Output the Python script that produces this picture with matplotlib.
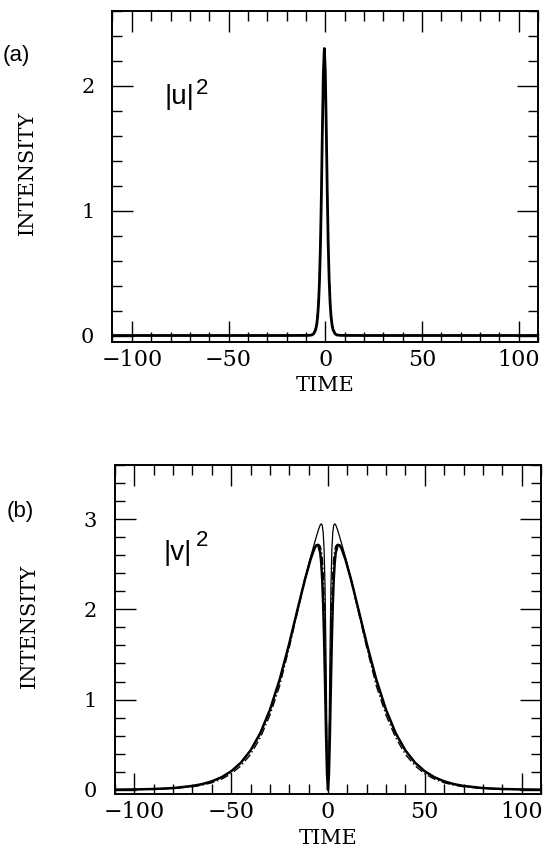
import matplotlib
matplotlib.use('Agg')
import matplotlib.pyplot as plt
from matplotlib.ticker import MultipleLocator

# panel (a): |u|^2
t_u = [-110, -60, -20, -9, -7, -6, -5, -4.5, -4, -3.5, -3, -2.5, -2, -1.5, -1, -0.5,
       0, 0.5, 1, 1.5, 2, 2.5, 3, 3.5, 4, 5, 6, 8, 20, 60, 110]
u_solid = [0.0, 0.0, 0.0, 0.001, 0.004, 0.014, 0.046, 0.082, 0.145, 0.254, 0.44, 0.73,
           1.15, 1.66, 2.11, 2.30, 2.11, 1.66, 1.15, 0.73, 0.44, 0.254, 0.145, 0.082,
           0.046, 0.014, 0.004, 0.001, 0.0, 0.0, 0.0]
u_dashdot = [0.0, 0.0, 0.0, 0.001, 0.006, 0.020, 0.059, 0.102, 0.174, 0.295, 0.489, 0.783,
             1.187, 1.654, 2.057, 2.22, 2.057, 1.654, 1.187, 0.783, 0.489, 0.295, 0.174,
             0.102, 0.059, 0.020, 0.006, 0.001, 0.0, 0.0, 0.0]

# panel (b): |v|^2
t_v = [-110, -100, -90, -80, -70, -65, -60, -55, -50, -45, -40, -35, -30, -25, -20, -16,
       -12, -9, -7, -6, -5, -4, -3.5, -3, -2.5, -2, -1.5, -1, -0.5, 0,
       0.5, 1, 1.5, 2, 2.5, 3, 3.5, 4, 5, 6, 7, 9, 12, 16, 20, 25, 30, 35, 40, 45,
       50, 55, 60, 65, 70, 80, 90, 100, 110]
v_thick = [0.002, 0.004, 0.009, 0.019, 0.043, 0.063, 0.094, 0.139, 0.205, 0.300, 0.436,
           0.626, 0.885, 1.218, 1.621, 1.975, 2.323, 2.554, 2.674, 2.711, 2.713, 2.628,
           2.520, 2.342, 2.066, 1.671, 1.166, 0.618, 0.174, 0.0,
           0.174, 0.618, 1.166, 1.671, 2.066, 2.342, 2.520, 2.628, 2.713, 2.711, 2.674,
           2.554, 2.323, 1.975, 1.621, 1.218, 0.885, 0.626, 0.436, 0.300, 0.205, 0.139,
           0.094, 0.063, 0.043, 0.019, 0.009, 0.004, 0.002]
v_thin = [0.002, 0.004, 0.009, 0.019, 0.043, 0.063, 0.094, 0.139, 0.205, 0.300, 0.436,
          0.626, 0.885, 1.218, 1.621, 1.976, 2.330, 2.578, 2.732, 2.805, 2.878, 2.936,
          2.947, 2.935, 2.858, 2.661, 2.226, 1.444, 0.483, 0.0,
          0.483, 1.444, 2.226, 2.661, 2.858, 2.935, 2.947, 2.936, 2.878, 2.805, 2.732,
          2.578, 2.330, 1.976, 1.621, 1.218, 0.885, 0.626, 0.436, 0.300, 0.205, 0.139,
          0.094, 0.063, 0.043, 0.019, 0.009, 0.004, 0.002]
v_dashdot = [0.001, 0.003, 0.0065, 0.015, 0.034, 0.052, 0.078, 0.118, 0.178, 0.265, 0.392,
             0.576, 0.827, 1.149, 1.578, 1.948, 2.31, 2.55, 2.67, 2.71, 2.72, 2.70,
             2.66, 2.58, 2.42, 2.12, 1.62, 0.95, 0.30, 0.0,
             0.30, 0.95, 1.62, 2.12, 2.42, 2.58, 2.66, 2.70, 2.72, 2.71, 2.67,
             2.55, 2.31, 1.948, 1.578, 1.149, 0.827, 0.576, 0.392, 0.265, 0.178, 0.118,
             0.078, 0.052, 0.034, 0.015, 0.0065, 0.003, 0.001]

x_ticks = [-100, -50, 0, 50, 100]

serif = 'DejaVu Serif'
sans = 'Liberation Sans'
dashdot = (0, (6, 2, 1, 2))

fig = plt.figure(figsize=(5.45, 8.48), dpi=100)
ax1 = fig.add_axes([0.2064, 0.597, 0.781, 0.390])
ax2 = fig.add_axes([0.211, 0.0633, 0.7816, 0.3884])


def style(ax, ymax):
    ax.set_xlim(-110, 110)
    ax.set_ylim(-0.05, ymax)
    ax.set_xticks(x_ticks)
    ax.xaxis.set_minor_locator(MultipleLocator(10))
    ax.yaxis.set_major_locator(MultipleLocator(1))
    ax.yaxis.set_minor_locator(MultipleLocator(0.2))
    ax.tick_params(which='both', direction='in', top=True, right=True, width=1.0, color='black')
    ax.tick_params(which='major', length=15)
    ax.tick_params(which='minor', length=7.5)
    ax.tick_params(axis='x', labelsize=16, pad=5)
    ax.tick_params(axis='y', labelsize=15, pad=13)
    for lab in ax.get_xticklabels() + ax.get_yticklabels():
        lab.set_family(serif)
    for sp in ax.spines.values():
        sp.set_linewidth(1.4)
    ax.set_xlabel('TIME', family=serif, fontsize=15, labelpad=4)
    ax.set_ylabel('INTENSITY', family=serif, fontsize=15)
    ax.yaxis.set_label_coords(-0.178, 0.51)


ax1.plot(t_u, u_solid, color='black', lw=2.0)
ax1.plot(t_u, u_dashdot, color='black', lw=1.0, linestyle=dashdot)
style(ax1, 2.6)
ax1.text(0.123, 0.72, '|u|', transform=ax1.transAxes, family=sans, fontsize=20)
ax1.text(0.197, 0.75, '2', transform=ax1.transAxes, family=sans, fontsize=16)

ax2.plot(t_v, v_thick, color='black', lw=1.8)
ax2.plot(t_v, v_thin, color='black', lw=0.9)
ax2.plot(t_v, v_dashdot, color='black', lw=1.0, linestyle=dashdot)
style(ax2, 3.6)
ax2.text(0.114, 0.711, '|v|', transform=ax2.transAxes, family=sans, fontsize=20)
ax2.text(0.19, 0.755, '2', transform=ax2.transAxes, family=sans, fontsize=16)

fig.text(16 / 545, 1 - 55 / 848, '(a)', family=sans, fontsize=16, ha='center', va='center')
fig.text(20 / 545, 1 - 512 / 848, '(b)', family=sans, fontsize=16, ha='center', va='center')

fig.savefig('out.png', dpi=100)
